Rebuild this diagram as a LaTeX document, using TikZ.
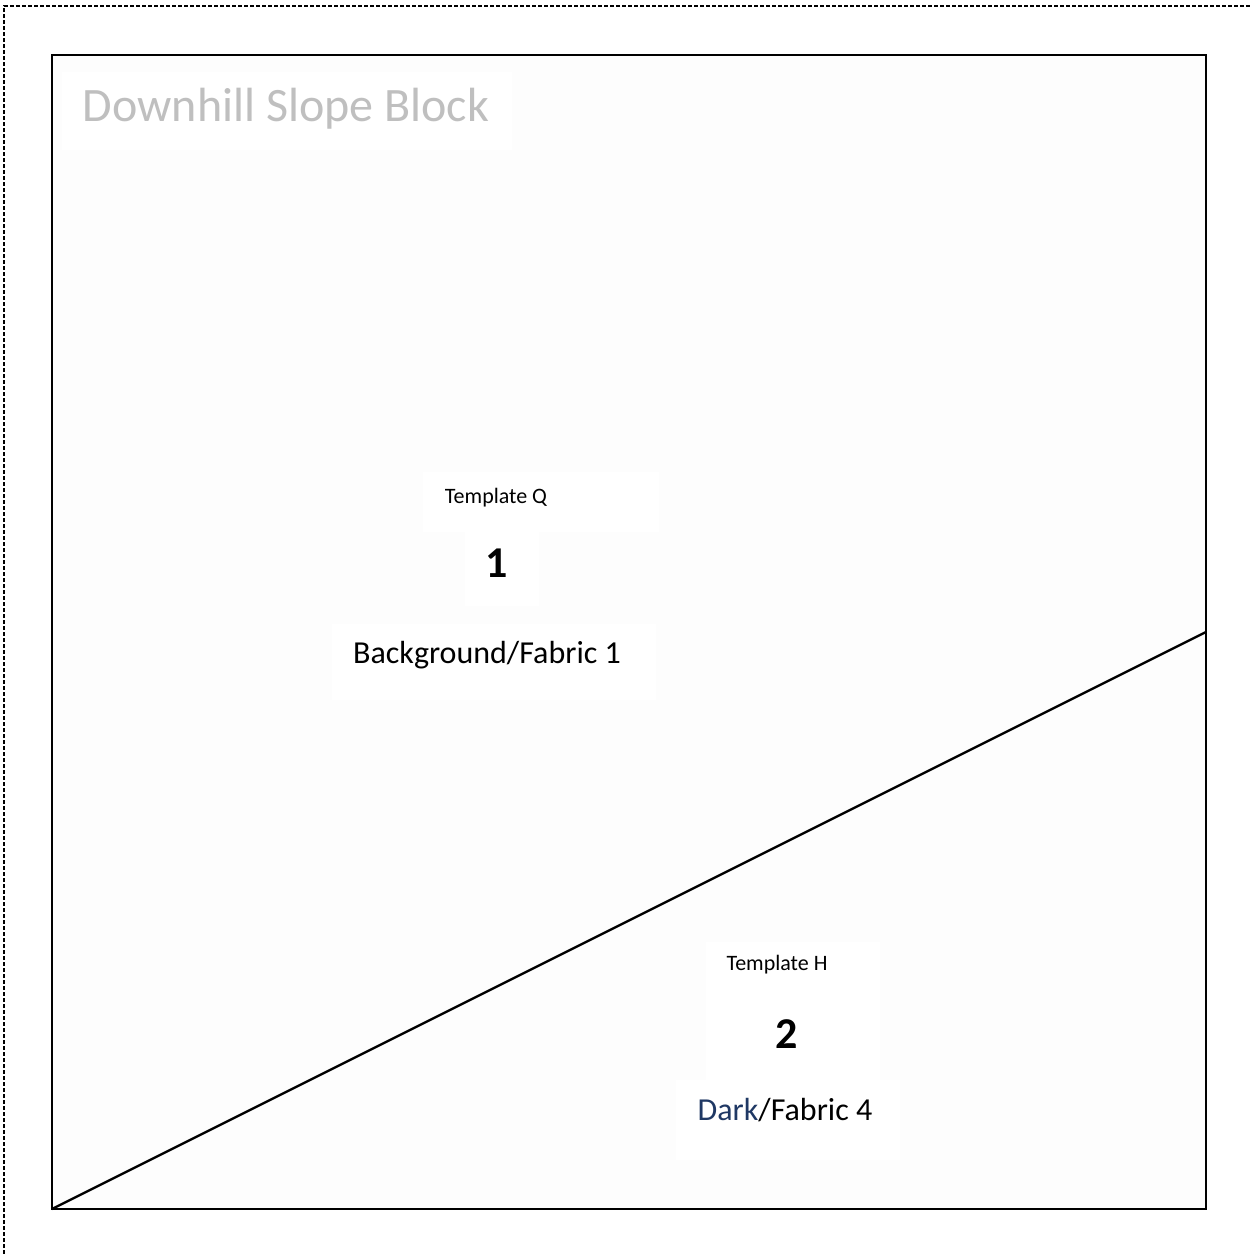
\documentclass[tikz,border=0pt]{standalone}
\usepackage{fontspec}
\setmainfont{Carlito}
\definecolor{titlegray}{RGB}{191,191,191}
\definecolor{darkblue}{RGB}{31,56,100}
\tikzset{
    label box/.style={fill=white, inner sep=0pt, anchor=base},
    small label/.style={label box, font=\fontsize{11}{13}\selectfont},
    big digit/.style={label box, font=\fontsize{22}{26}\selectfont\bfseries},
    fabric label/.style={label box, font=\fontsize{16}{19}\selectfont}
}
\begin{document}
\begin{tikzpicture}[x=0.5pt, y=-0.5pt]
\useasboundingbox (0,0) rectangle (1250,1254);
% page frame
\draw[line width=0.8pt, dash pattern=on 2pt off 1pt] (4,1254)--(4,6)--(1250,6);
% block
\fill[black!0.6] (52,55) rectangle (1206,1209);
\coordinate (sw) at (52,1209);
\coordinate (se) at (1206,1209);
\coordinate (ne) at (1206,55);
\coordinate (nw) at (52,55);
\coordinate (cut) at (1206,632);
% text boxes
\fill[white] (62,72) rectangle (512,150);
\fill[white] (423,472) rectangle (659,532);
\fill[white] (465,532) rectangle (539,606);
\fill[white] (332,624) rectangle (656,700);
\fill[white] (706,942) rectangle (880,1000);
\fill[white] (706,1000) rectangle (880,1080);
\fill[white] (676,1080) rectangle (900,1160);
\draw[line width=1.3pt] (sw)--(se)--(ne)--(nw)--cycle;
\draw[line width=1.2pt] (sw)--(cut);
\node (title) at (286,121) [label box, text=titlegray, font=\fontsize{24}{29}\selectfont]{Downhill Slope Block};
\node (tq) at (496,503) [small label]{Template Q};
\node (one) at (497,577) [big digit]{1};
\node (bg) at (487,663) [fabric label]{Background/Fabric 1};
\node (th) at (777,970) [small label]{Template H};
\node (two) at (787,1048) [big digit]{2};
\node (dk) at (785,1120) [fabric label]{\textcolor{darkblue}{Dark}/Fabric 4};
\end{tikzpicture}
\end{document}
